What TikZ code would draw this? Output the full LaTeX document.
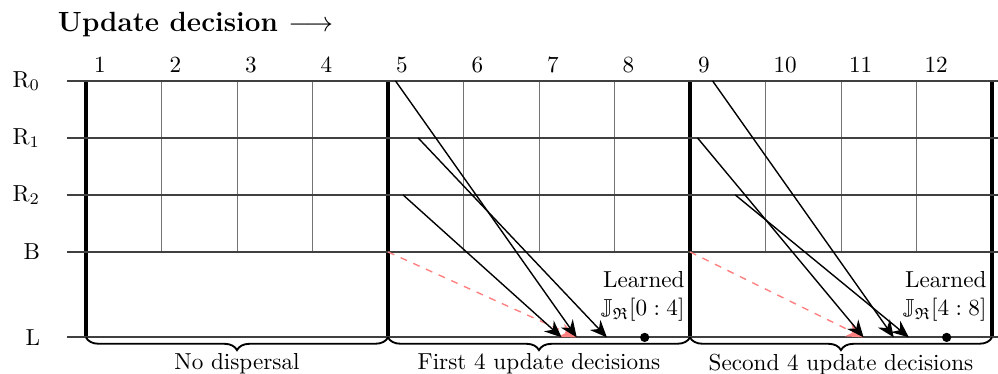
\documentclass[tikz,border=0pt]{standalone}
\usepackage{amssymb}
\usetikzlibrary{arrows.meta,decorations.pathreplacing}

\begin{document}
\begin{tikzpicture}[
    x=1.146cm, y=0.865cm,
    rowline/.style={line width=0.9pt, black!75},
    colline/.style={thin, black!55},
    secline/.style={line width=1.4pt, black},
    arrow/.style={-{Stealth[length=2.6mm, width=2.2mm]}, semithick},
    ghost/.style={-{Stealth[length=2.6mm, width=2.2mm]}, semithick, dashed, red!50},
    rowlabel/.style={left},
    collabel/.style={above right},
    dot/.style={circle, fill, inner sep=0pt, minimum size=4pt},
    learned/.style={anchor=south east, align=right, inner sep=0pt},
    brace/.style={decorate, decoration={brace, mirror, amplitude=5.5pt}, thick},
    phase/.style={font=\large\bfseries},
]
\useasboundingbox (-1.139,1.421) rectangle (12.08,-5.14);

% Title
\node[phase, anchor=base west, inner sep=0pt] (title) at (-0.377,0.868) {Update decision $\longrightarrow$};

% ====== Grid ======
\foreach \x in {0,4,8,12} \draw[secline] (\x,0) -- (\x,-4.5);
\foreach \x in {1,2,3,5,6,7,9,10,11} \draw[colline] (\x,0) -- (\x,-3);
\foreach \y in {0,-1,-2,-3,-4.5} \draw[rowline] (-0.25,\y) -- (12.08,\y);

% ====== Row labels ======
\node[rowlabel] (lR0) at (-0.5,0) {R$_0$};
\node[rowlabel] (lR1) at (-0.5,-1) {R$_1$};
\node[rowlabel] (lR2) at (-0.5,-2) {R$_2$};
\node[rowlabel] (lB) at (-0.5,-3) {B};
\node[rowlabel] (lL) at (-0.5,-4.5) {L};

% ====== Column labels ======
\foreach \x [count=\i] in {0,...,11} \node[collabel] (c\i) at (\x,0) {\i};

% ====== First 4 update decisions ======
\coordinate (fR0) at (4.1,0);
\coordinate (fR1) at (4.4,-1);
\coordinate (fR2) at (4.2,-2);
\coordinate (fB) at (4,-3);
\coordinate (fL0) at (6.5,-4.5);
\coordinate (fL1) at (6.9,-4.5);
\coordinate (fL2) at (6.3,-4.5);

\draw[ghost] (fB) -- (fL0);
\draw[arrow] (fR0) -- (fL0);
\draw[arrow] (fR1) -- (fL1);
\draw[arrow] (fR2) -- (fL2);

\node[dot] (kA) at (7.4,-4.5) {};
\node[learned] (learnA) at (7.934,-4.23) {Learned\\$\mathbb{J}_{\mathfrak{R}}[0:4]$};

% ====== Second 4 update decisions ======
\coordinate (sR0) at (8.3,0);
\coordinate (sR1) at (8.1,-1);
\coordinate (sR2) at (8.6,-2);
\coordinate (sB) at (8,-3);
\coordinate (sL0) at (10.7,-4.5);
\coordinate (sL1) at (10.3,-4.5);
\coordinate (sL2) at (10.9,-4.5);

\draw[ghost] (sB) -- (sL1);
\draw[arrow] (sR0) -- (sL0);
\draw[arrow] (sR1) -- (sL1);
\draw[arrow] (sR2) -- (sL2);

\node[dot] (kB) at (11.4,-4.5) {};
\node[learned] (learnB) at (11.934,-4.23) {Learned\\$\mathbb{J}_{\mathfrak{R}}[4:8]$};

% ====== Braces ======
\draw[brace] (0,-4.5) -- (4,-4.5);
\draw[brace] (4,-4.5) -- (8,-4.5);
\draw[brace] (8,-4.5) -- (12,-4.5);
\node (bA) at (2,-4.97) {No dispersal};
\node (bB) at (6,-4.97) {First 4 update decisions};
\node (bC) at (10,-4.97) {Second 4 update decisions};

\end{tikzpicture}
\end{document}
